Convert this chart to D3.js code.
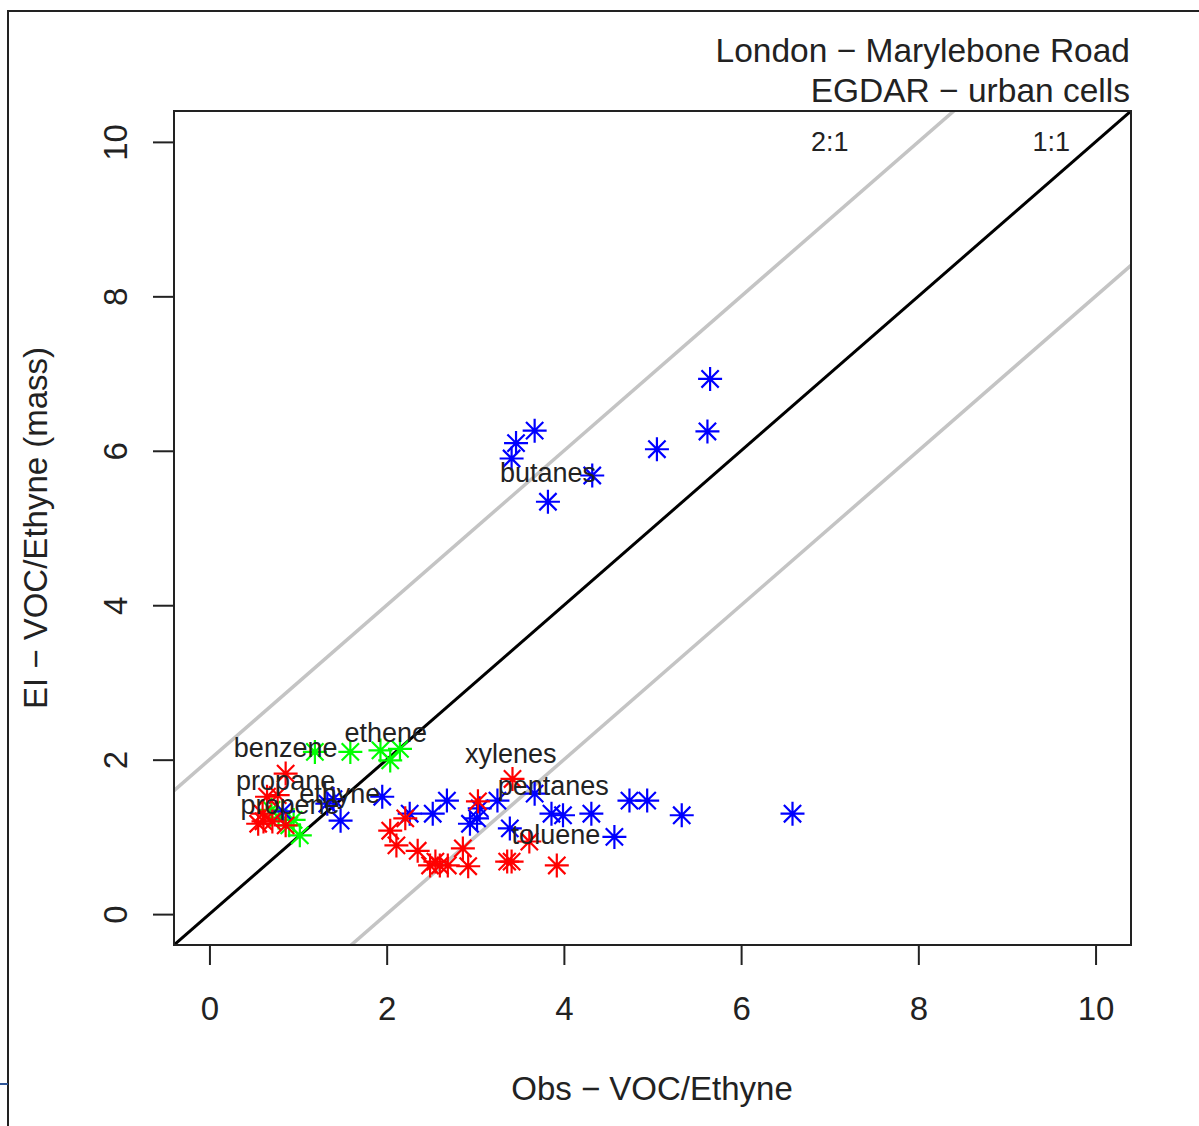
<!DOCTYPE html>
<html>
<head>
<meta charset="utf-8">
<script src="https://cdn.jsdelivr.net/npm/d3@7"></script>
<style>
  body { margin: 0; background: #fff; }
  svg text { font-family: "Liberation Sans", Arial, sans-serif; fill: #222; }
</style>
</head>
<body>
<svg width="1199" height="1126"></svg>
<script>
var width = 1199,
    height = 1126,
    armLen = 12; // asterisk arm length

// obs (x) vs emission inventory (y) ratios
var bluePts = [
  [5.65, 6.93], [5.62, 6.25], [5.05, 6.02], [3.67, 6.26], [3.46, 6.10],
  [3.41, 5.90], [4.32, 5.68], [3.82, 5.34],
  [0.83, 1.33], [1.33, 1.43], [1.40, 1.49], [1.48, 1.21], [1.95, 1.52],
  [2.26, 1.30], [2.52, 1.30], [2.68, 1.47], [2.94, 1.17], [3.02, 1.24],
  [3.05, 1.37], [3.25, 1.47], [3.39, 1.11], [3.67, 1.56], [3.86, 1.30],
  [3.99, 1.28], [4.31, 1.30], [4.57, 1.00], [4.74, 1.47], [4.94, 1.47],
  [5.33, 1.28], [6.58, 1.30]
];
var redPts = [
  [0.86, 1.82], [0.65, 1.52], [0.77, 1.54], [0.55, 1.17], [0.61, 1.20],
  [0.71, 1.20], [0.86, 1.15], [0.60, 1.30], [2.04, 1.08], [2.11, 0.89],
  [2.21, 1.24], [2.35, 0.82], [2.49, 0.63], [2.55, 0.68], [2.60, 0.63],
  [2.69, 0.63], [2.86, 0.85], [2.92, 0.62], [3.03, 1.46], [3.36, 0.68],
  [3.41, 0.68], [3.42, 1.75], [3.61, 0.94], [3.92, 0.63]
];
var greenPts = [
  [1.19, 2.10], [1.59, 2.10], [1.93, 2.12], [2.15, 2.14], [2.04, 1.99],
  [1.02, 1.02], [0.90, 1.15], [0.78, 1.25], [0.95, 1.22], [0.70, 1.35]
];

var labelNames = ["benzene", "ethene", "propane", "propene", "ethyne",
                  "xylenes", "pentanes", "toluene", "butanes"];
var labelX = [0.86, 1.99, 0.86, 0.91, 1.47, 3.40, 3.88, 3.91, 3.82];
var labelY = [2.16, 2.35, 1.73, 1.42, 1.56, 2.08, 1.66, 1.03, 5.72];

var xTicks = [0, 2, 4, 6, 8, 10],
    yTicks = [0, 2, 4, 6, 8, 10];

var refOffsets = [2, 0, -2];
var refNames = ["2:1", "1:1"];
var refNameX = [7, 9.5];

var svg = d3.select("svg");

var x = d3.scaleLinear().domain([-0.4, 10.4]).range([174, 1131]);
var y = d3.scaleLinear().domain([-0.4, 10.4]).range([945, 111]);

// outer frame bits
svg.append("path")
    .attr("d", "M8,1126V11H1199")
    .attr("fill", "none")
    .attr("stroke", "#222")
    .attr("stroke-width", 2);
svg.append("line")
    .attr("x1", 0).attr("x2", 8).attr("y1", 1084).attr("y2", 1084)
    .attr("stroke", "#2f5597").attr("stroke-width", 2);

svg.append("clipPath").attr("id", "plotclip")
  .append("rect")
    .attr("x", 174).attr("y", 111)
    .attr("width", 1131 - 174).attr("height", 945 - 111);

var plot = svg.append("g").attr("clip-path", "url(#plotclip)");

// reference lines y = x + k
plot.selectAll(".ref")
    .data(refOffsets)
  .enter().append("line")
    .attr("class", "ref")
    .attr("x1", x(-1)).attr("y1", function(k) { return y(-1 + k); })
    .attr("x2", x(12)).attr("y2", function(k) { return y(12 + k); })
    .attr("stroke", function(k) { return k === 0 ? "#000" : "#c4c4c4"; })
    .attr("stroke-width", function(k) { return k === 0 ? 3 : 3.5; });

function asterisk(g, pts, color) {
  var grp = g.selectAll(null)
      .data(pts)
    .enter().append("g")
      .attr("transform", function(d) { return "translate(" + x(d[0]) + "," + y(d[1]) + ")"; })
      .attr("stroke", color)
      .attr("stroke-width", 2.2);
  var a = armLen, b = armLen * 0.72;
  grp.append("path")
      .attr("d", "M" + (-a) + ",0H" + a + "M0," + (-a) + "V" + a +
                 "M" + (-b) + "," + (-b) + "L" + b + "," + b +
                 "M" + (-b) + "," + b + "L" + b + "," + (-b));
}

asterisk(plot, greenPts, "#00ff00");
asterisk(plot, bluePts, "#0000ff");
asterisk(plot, redPts, "#ff0000");

plot.selectAll(".lab")
    .data(labelNames)
  .enter().append("text")
    .attr("class", "lab")
    .attr("x", function(d, i) { return x(labelX[i]); })
    .attr("y", function(d, i) { return y(labelY[i]); })
    .attr("dy", "0.35em")
    .attr("text-anchor", "middle")
    .style("font-size", "27px")
    .text(function(d) { return d; });

svg.selectAll(".refname")
    .data(refNames)
  .enter().append("text")
    .attr("class", "refname")
    .attr("x", function(d, i) { return x(refNameX[i]); })
    .attr("y", y(10))
    .attr("dy", "0.35em")
    .attr("text-anchor", "middle")
    .style("font-size", "27px")
    .text(function(d) { return d; });

// box
svg.append("rect")
    .attr("x", 174).attr("y", 111)
    .attr("width", 1131 - 174).attr("height", 945 - 111)
    .attr("fill", "none")
    .attr("stroke", "#222")
    .attr("stroke-width", 2);

var xAxis = svg.append("g")
    .attr("transform", "translate(0,945)")
    .call(d3.axisBottom(x).tickValues(xTicks).tickSize(20).tickFormat(d3.format("d")));
var yAxis = svg.append("g")
    .attr("transform", "translate(174,0)")
    .call(d3.axisLeft(y).tickValues(yTicks).tickSize(21).tickFormat(d3.format("d")));

[xAxis, yAxis].forEach(function(ax) {
  ax.select(".domain").remove();
  ax.selectAll(".tick line").attr("stroke", "#222").attr("stroke-width", 2);
  ax.selectAll(".tick text")
      .style("font-size", "33px")
      .style("font-family", "Liberation Sans, Arial, sans-serif")
      .attr("fill", "#222");
});

yAxis.selectAll(".tick text")
    .attr("x", null)
    .attr("text-anchor", "middle")
    .attr("transform", "translate(-59,0) rotate(-90)")
    .attr("y", 0)
    .attr("dy", "0.35em");

xAxis.selectAll(".tick text").attr("dy", "0.35em").attr("y", 63);

// axis titles
svg.append("text")
    .attr("x", 652).attr("y", 1088)
    .attr("dy", "0.35em")
    .attr("text-anchor", "middle")
    .style("font-size", "33px")
    .text("Obs \u2212 VOC/Ethyne");

svg.append("text")
    .attr("transform", "translate(35,528) rotate(-90)")
    .attr("dy", "0.35em")
    .attr("text-anchor", "middle")
    .style("font-size", "33px")
    .text("EI \u2212 VOC/Ethyne (mass)");

svg.selectAll(".title")
    .data(["London \u2212 Marylebone Road", "EGDAR \u2212 urban cells"])
  .enter().append("text")
    .attr("class", "title")
    .attr("x", 1130)
    .attr("y", function(d, i) { return 62 + i * 40; })
    .attr("text-anchor", "end")
    .style("font-size", "33.5px")
    .text(function(d) { return d; });
</script>
</body>
</html>
